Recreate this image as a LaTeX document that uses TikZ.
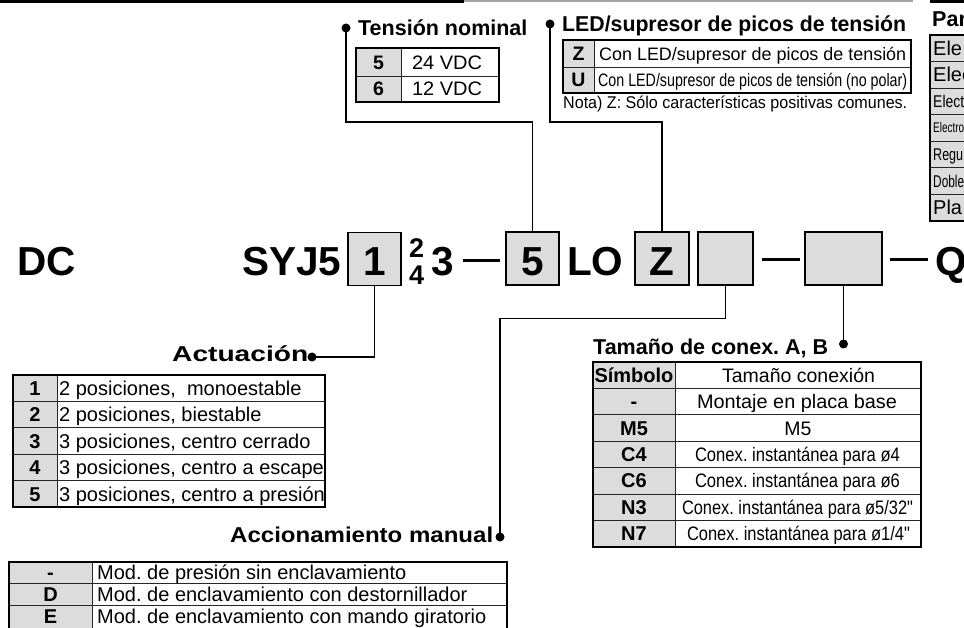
\documentclass[tikz,border=0pt]{standalone}
\usepackage{fontspec}
\setmainfont{Liberation Sans}
\newfontfamily\nomapfont{Liberation Sans}
\usepackage{graphicx}
\definecolor{cellgray}{HTML}{DCDCDC}
\definecolor{topgray}{HTML}{A3A3A3}
\newcommand{\hw}[2]{\resizebox{#1}{\height}{#2}}
\newcommand{\dq}{{\nomapfont\symbol{34}}}
\tikzset{
  grid/.style={line width=0.9pt, draw=black!85},
  frame/.style={line width=1.1pt},
  topedge/.style={line width=2.2pt},
  codebox/.style={draw, line width=1.5pt, fill=cellgray, inner sep=0, minimum height=53pt},
  codetxt/.style={font=\fontsize{40.5}{40}\selectfont\bfseries, inner sep=0, anchor=base west},
  codectr/.style={font=\fontsize{40.5}{40}\selectfont\bfseries, inner sep=0, anchor=base},
  supx/.style={font=\fontsize{27}{27}\selectfont\bfseries, inner sep=0, anchor=base west},
  ttl/.style={font=\fontsize{21.5}{22}\selectfont\bfseries, inner sep=0, anchor=base west},
  cellb/.style={font=\fontsize{19.5}{20}\selectfont\bfseries, inner sep=0, anchor=base},
  cellc/.style={font=\fontsize{19.5}{20}\selectfont, inner sep=0, anchor=base},
  celll/.style={font=\fontsize{20}{20}\selectfont, inner sep=0, anchor=base west},
  cellsm/.style={font=\fontsize{18}{18}\selectfont, inner sep=0, anchor=base west},
  dotn/.style={circle, fill, inner sep=0, minimum size=9pt},
  conn/.style={line width=1.5pt},
  dashl/.style={line width=3pt},
}
\begin{document}
\frenchspacing
\begin{tikzpicture}[x=1pt,y=-1pt]
\useasboundingbox (0,0) rectangle (964,628);
\clip (0,0) rectangle (964,628);
\fill[white] (0,0) rectangle (964,628);

% top rules
\draw[line width=2.8pt] (0,1.4) -- (464,1.4);
\draw[topgray, line width=2pt] (464,1) -- (913,1);
\draw[line width=2.8pt] (930,1.4) -- (964,1.4);

% ===== code line =====
\node[codetxt] (tDC) at (17,275.5) {DC};
\node[codetxt] (tSYJ) at (242,275.5) {SYJ5};
\node[codebox, minimum width=53pt] (b1) at (374.5,259) {};
\node[codectr] (t1) at (374.5,275.5) {1};
\node[supx] (t2) at (409,258) {2};
\node[supx] (t4) at (409,285) {4};
\node[codetxt] (t3) at (431,275.5) {3};
\draw[dashl] (463,260.5) -- (500,260.5);
\node[codebox, minimum width=53pt] (b5) at (532.5,258.5) {};
\node[codectr] (t5) at (532.5,275.5) {5};
\node[codetxt] (tLO) at (567,275.5) {LO};
\node[codebox, minimum width=54pt] (bz) at (662,258.5) {};
\node[codectr] (tZ) at (662,275.5) {Z};
\node[codebox, minimum width=55pt] (be) at (725.5,258.5) {};
\draw[dashl] (762,260) -- (800,260);
\node[codebox, minimum width=77pt] (bl) at (843.5,258.5) {};
\draw[dashl] (890,260) -- (928,260);
\node[codetxt] (tQ) at (935,275.5) {Q};

% ===== dots and titles =====
\node[dotn] (dT) at (346,28) {};
\node[dotn] (dL) at (550,24) {};
\node[dotn] (dA) at (312,357) {};
\node[dotn] (dM) at (500,537) {};
\node[dotn] (dS) at (843.5,344) {};

\node[ttl] (hT) at (358,36) {Tensión nominal};
\node[ttl] (hL) at (562,32) {\hw{344pt}{LED/supresor de picos de tensión}};
\node[ttl] (hP) at (932,27) {Par};
\node[ttl] (hA) at (172,362) {\hw{136pt}{Actuación}};
\node[ttl] (hS) at (593,355) {\hw{235pt}{Tamaño de conex. A, B}};
\node[ttl] (hM) at (230,542) {\hw{263pt}{Accionamiento manual}};

% ===== connectors =====
\draw[conn] (dT.center) -- ++(0,94) -| (b5.north);
\draw[conn] (dL.center) -- ++(0,98) -| (bz.north);
\draw[conn] (b1.south) |- (dA.center);
\draw[conn] (be.south) -- ++(0,33) -| (dM.center);
\draw[conn] (bl.south) -- (dS.center);

% ===== Tension nominal table =====
\fill[white] (356,48) rectangle (499,102);
\fill[cellgray] (356,48) rectangle (401,102);
\draw[grid] (356,76) -- (499,76);
\draw[grid] (401,48) -- (401,102);
\draw[frame] (356,48) rectangle (499,102);
\draw[topedge] (356,48) -- (499,48);
\node[cellb] (tn5) at (378.5,69.5) {5};
\node[cellc] (tv24) at (447,69.5) {\hw{70pt}{24 VDC}};
\node[cellb] (tn6) at (378.5,96) {6};
\node[cellc] (tv12) at (447,96) {\hw{70pt}{12 VDC}};

% ===== LED table =====
\fill[white] (563,40) rectangle (911,93);
\fill[cellgray] (563,40) rectangle (594,93);
\draw[grid] (563,67) -- (911,67);
\draw[grid] (594,40) -- (594,93);
\draw[frame] (563,40) rectangle (911,93);
\draw[topedge] (563,40) -- (911,40);
\node[cellb] (lz) at (578.5,60.5) {Z};
\node[cellb] (lu) at (578.5,87) {U};
\node[cellsm] (lzt) at (599,60.5) {\hw{307pt}{Con LED/supresor de picos de tensión}};
\node[cellsm] (lut) at (598,87) {\hw{309pt}{Con LED/supresor de picos de tensión (no polar)}};
\node[font=\fontsize{17}{17}\selectfont, inner sep=0, anchor=base west] (nota) at (563,108.5)
  {\hw{344pt}{Nota) Z: Sólo características positivas comunes.}};

% ===== Par table (cut at right edge) =====
\fill[cellgray] (930,35) rectangle (975,221);
\foreach \yy in {61.6,88.1,114.7,141.3,167.9,194.4} \draw[grid] (930,\yy) -- (975,\yy);
\draw[frame] (930,35) rectangle (975,221);
\draw[topedge] (930,35) -- (975,35);
\node[celll] (p1) at (933,55.3) {Ele};
\node[celll] (p2) at (933,81.9) {Elec};
\node[font=\fontsize{17}{17}\selectfont, inner sep=0, anchor=base west] (p3) at (933,107.6) {\hw{31pt}{Elect}};
\node[font=\fontsize{14}{14}\selectfont, inner sep=0, anchor=base west] (p4) at (933,133) {\hw{31pt}{Electro}};
\node[font=\fontsize{17}{17}\selectfont, inner sep=0, anchor=base west] (p5) at (933,160.8) {\hw{30pt}{Regu}};
\node[font=\fontsize{17}{17}\selectfont, inner sep=0, anchor=base west] (p6) at (933,187.3) {\hw{31pt}{Doble}};
\node[celll] (p7) at (933,214.7) {Pla};

% ===== Actuacion table =====
\fill[white] (13,375) rectangle (325,507);
\fill[cellgray] (13,375) rectangle (57,507);
\foreach \yy in {401.4,427.8,454.2,480.6} \draw[grid] (13,\yy) -- (325,\yy);
\draw[grid] (57,375) -- (57,507);
\draw[frame] (13,375) rectangle (325,507);
\draw[topedge] (13,375) -- (325,375);
\node[cellb, font=\fontsize{20}{20}\selectfont\bfseries] (a1) at (35,395.4) {1};
\node[cellb, font=\fontsize{20}{20}\selectfont\bfseries] (a2) at (35,421.8) {2};
\node[cellb, font=\fontsize{20}{20}\selectfont\bfseries] (a3) at (35,448.2) {3};
\node[cellb, font=\fontsize{20}{20}\selectfont\bfseries] (a4) at (35,474.6) {4};
\node[cellb, font=\fontsize{20}{20}\selectfont\bfseries] (a5) at (35,501) {5};
\node[celll] (at1) at (59,395.4) {2 posiciones,\ \ monoestable};
\node[celll] (at2) at (59,421.8) {2 posiciones, biestable};
\node[celll] (at3) at (59,448.2) {3 posiciones, centro cerrado};
\node[celll] (at4) at (59,474.6) {3 posiciones, centro a escape};
\node[celll] (at5) at (59,501) {3 posiciones, centro a presión};

% ===== Tamano de conexion table =====
\fill[white] (593,362) rectangle (921,547);
\fill[cellgray] (593,362) rectangle (675,547);
\foreach \yy in {388.4,414.9,441.3,467.7,494.1,520.6} \draw[grid] (593,\yy) -- (921,\yy);
\draw[grid] (675,362) -- (675,547);
\draw[frame] (593,362) rectangle (921,547);
\draw[topedge] (593,362) -- (921,362);
\node[cellb, font=\fontsize{20}{20}\selectfont\bfseries] (s0) at (634,382.2) {Símbolo};
\node[cellb, font=\fontsize{20}{20}\selectfont\bfseries] (s1) at (634,408.6) {-};
\node[cellb, font=\fontsize{20}{20}\selectfont\bfseries] (s2) at (634,435.1) {M5};
\node[cellb, font=\fontsize{20}{20}\selectfont\bfseries] (s3) at (634,461.5) {C4};
\node[cellb, font=\fontsize{20}{20}\selectfont\bfseries] (s4) at (634,487.9) {C6};
\node[cellb, font=\fontsize{20}{20}\selectfont\bfseries] (s5) at (634,514.3) {N3};
\node[cellb, font=\fontsize{20}{20}\selectfont\bfseries] (s6) at (634,540.8) {N7};
\node[cellc] (c0) at (798.5,382.2) {\hw{153pt}{Tamaño conexión}};
\node[cellc] (c1) at (797,408.6) {\hw{200pt}{Montaje en placa base}};
\node[cellc] (c2) at (798,435.1) {M5};
\node[cellc] (c3) at (797.5,461.5) {\hw{205pt}{Conex. instantánea para ø4}};
\node[cellc] (c4) at (797.5,487.9) {\hw{205pt}{Conex. instantánea para ø6}};
\node[cellc] (c5) at (797.5,514.3) {\hw{231pt}{Conex. instantánea para ø5/32\dq}};
\node[cellc] (c6) at (798.5,540.8) {\hw{223pt}{Conex. instantánea para ø1/4\dq}};

% ===== Accionamiento manual table =====
\fill[white] (9,562) rectangle (507,650);
\fill[cellgray] (9,562) rectangle (92,650);
\draw[grid] (9,583.7) -- (507,583.7);
\draw[grid] (9,605.3) -- (507,605.3);
\draw[grid] (92,562) -- (92,650);
\draw[frame] (9,562) rectangle (507,650);
\draw[topedge] (9,562) -- (507,562);
\node[cellb, font=\fontsize{20}{20}\selectfont\bfseries] (m1) at (50.5,579.5) {-};
\node[cellb, font=\fontsize{20}{20}\selectfont\bfseries] (m2) at (50.5,601) {D};
\node[cellb, font=\fontsize{20}{20}\selectfont\bfseries] (m3) at (50.5,623) {E};
\node[celll] (mt1) at (97,579.5) {Mod. de presión sin enclavamiento};
\node[celll] (mt2) at (97,601) {Mod. de enclavamiento con destornillador};
\node[celll] (mt3) at (97,623) {Mod. de enclavamiento con mando giratorio};
\end{tikzpicture}
\end{document}
